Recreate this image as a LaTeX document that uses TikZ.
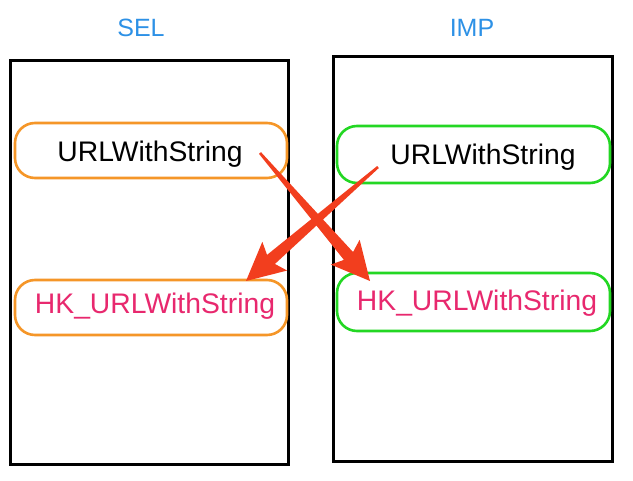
\documentclass[tikz,border=0pt]{standalone}
\usepackage{fontspec}
\setmainfont{Liberation Sans}
\usetikzlibrary{calc}
\definecolor{selorange}{RGB}{245,150,40}
\definecolor{impgreen}{RGB}{35,215,35}
\definecolor{hkpink}{RGB}{232,40,110}
\definecolor{titleblue}{RGB}{45,145,230}
\definecolor{arrowred}{RGB}{242,62,30}
\tikzset{
  frame/.style={draw=black,line width=3pt},
  selbox/.style={draw=selorange,line width=2.6pt,rounded corners=20pt},
  impbox/.style={draw=impgreen,line width=2.6pt,rounded corners=20pt},
  lbl/.style={font=\fontsize{28.3}{30}\selectfont,inner sep=0pt,anchor=center},
  title/.style={font=\fontsize{25}{28}\selectfont,text=titleblue,inner sep=0pt},
}
\begin{document}
\begin{tikzpicture}[x=1pt,y=-1pt]
\useasboundingbox (0,0) rectangle (633,481);
\fill[white] (0,0) rectangle (633,481);
% titles
\node[title] (sel) at (141,28) {SEL};
\node[title] (imp) at (472,28) {IMP};
% frames
\draw[frame] (10,61) rectangle (288,465);
\draw[frame] (333,57) rectangle (612,462);
% rounded boxes
\draw[selbox] (15,123) rectangle (287,178);
\draw[selbox] (15,280) rectangle (287,335);
\draw[impbox] (337,126) rectangle (610,183);
\draw[impbox] (337,273) rectangle (610,331);
% labels
\node[lbl] (selurl) at (150,154) {URLWithString};
\node[lbl,text=hkpink] (selhk) at (155,306) {HK\_URLWithString};
\node[lbl] (impurl) at (483,157) {URLWithString};
\node[lbl,text=hkpink] (imphk) at (477,303) {HK\_URLWithString};
% arrows
\coordinate (a1s) at (260,153);
\coordinate (a1e) at (370,281);
\coordinate (a2s) at (378,167);
\coordinate (a2e) at (246,281);
\foreach \s/\e in {a1s/a1e,a2s/a2e}{
  \coordinate (hw) at ($(\e)!38pt!(\s)$);
  \coordinate (hj) at ($(\e)!33pt!(\s)$);
  \fill[arrowred]
    ($(\s)!1.3pt!90:(\e)$) -- ($(hj)!6pt!-90:(\s)$) -- ($(hw)!19pt!-90:(\s)$) -- (\e)
    -- ($(hw)!19pt!90:(\s)$) -- ($(hj)!6pt!90:(\s)$) -- ($(\s)!1.3pt!-90:(\e)$) -- cycle;
}
\end{tikzpicture}
\end{document}
